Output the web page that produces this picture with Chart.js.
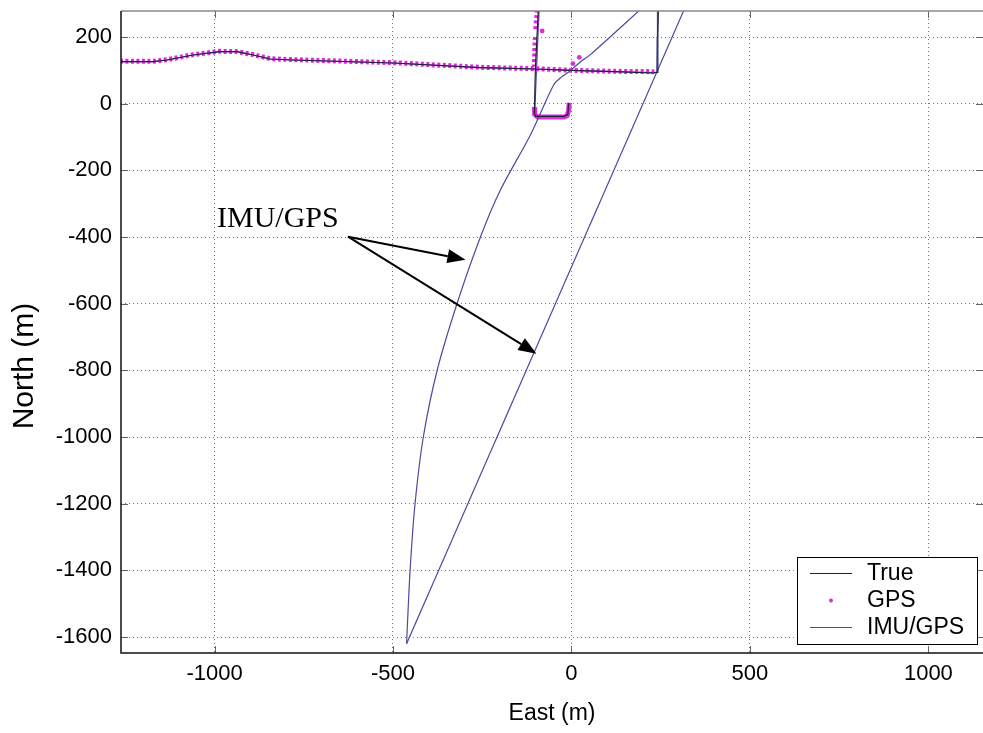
<!DOCTYPE html>
<html>
<head>
<meta charset="utf-8">
<title>IMU/GPS trajectory</title>
<script src="https://cdn.jsdelivr.net/npm/chart.js@4.4.1/dist/chart.umd.min.js"></script>
<style>
  html, body { margin: 0; padding: 0; background: #fff; }
  #wrap { width: 983px; height: 733px; }
</style>
</head>
<body>
<div id="wrap"><canvas id="trackChart" width="983" height="733"></canvas></div>
<script>
// axis limits and tick labels (metres)
const eastRange = [-1262, 1153];
const northRange = [-1648, 278];
const eastTicks = [-1000, -500, 0, 500, 1000];
const northTicks = [-1600, -1400, -1200, -1000, -800, -600, -400, -200, 0, 200];

// True trajectory, null = leaves the plot
const trueEast  = [-1265, -1172, -1133, -1060, -985, -937, -892, -844, -780, -499, -255, -100, 0, 120, 228, 241, 242, 244, null, -92, -101, -104, -100, -20, -10, -8];
const trueNorth = [126, 126, 131, 146, 156, 156, 146, 134, 131, 122, 108, 104, 100, 96, 92, 94, 200, 300, null, 300, 107, -30, -38, -38, -32, 2];

// GPS fixes along the road and the north-south street
const gpsEast  = [-1265, -1172, -1133, -1060, -985, -937, -892, -844, -780, -499, -255, -100, 0, 120, 232, null, -95, -99, -100, null, -101, -103, -104];
const gpsNorth = [127, 127, 132, 147, 157, 156, 147, 135, 132, 123, 109, 105, 100, 97, 96, null, 282, 240, 222, null, 200, 150, 112];
// GPS fixes in the small loop south of the road
const gpsLoopEast  = [-104, -103, -95, -20, -12, -8, -6];
const gpsLoopNorth = [-10, -32, -40, -40, -36, -20, 3];
// isolated GPS fixes
const gpsSpotEast  = [-82, 4, 22];
const gpsSpotNorth = [218, 120, 139];

// IMU/GPS solution while it follows the track
const imuEast  = [-1265, -1172, -1133, -1060, -985, -937, -892, -844, -780, -499, -255, -100, 0, 120, 228, 239, 240, 241, null, -90, -98, -103];
const imuNorth = [126, 126, 131, 146, 156, 156, 146, 134, 131, 122, 108, 104, 100, 96, 93, 95, 200, 300, null, 300, 100, -30];
// IMU/GPS drift: curved branch down to the turning point, straight branch back up
const driftEast  = [201, 53, 25, -8, -30, -50, -115, -199, -255, -320, -376, -415, -438, -452, -462];
const driftNorth = [290, 147, 125, 95, 78, 56, -94, -259, -400, -598, -799, -1000, -1198, -1399, -1620];
const returnEast  = [-462, 319];
const returnNorth = [-1620, 290];

// annotation (data units)
const noteText = 'IMU/GPS';
const noteAt = [-993, -370];
const arrowFrom = [-626, -399];
const arrowTips = [[-297, -468], [-98, -750]];

const pts = (xs, ys) => xs.map((x, i) => ({ x: x, y: ys[i] }));

const SANS = '"Liberation Sans", Arial, sans-serif';
const TRUE_COLOR = '#202038';
const GPS_COLOR = '#dc2cdc';
const IMU_COLOR = '#4a4aa0';

// frame + inward tick marks, like a matlab axes box
const axesBox = {
  id: 'axesBox',
  afterDatasetsDraw(chart) {
    const { ctx, chartArea: a, scales } = chart;
    ctx.save();
    ctx.strokeStyle = '#666';
    ctx.lineWidth = 1;
    ctx.beginPath();
    eastTicks.forEach(v => {
      const x = Math.round(scales.x.getPixelForValue(v)) + 0.5;
      ctx.moveTo(x, a.bottom); ctx.lineTo(x, a.bottom - 7);
      ctx.moveTo(x, a.top); ctx.lineTo(x, a.top + 7);
    });
    northTicks.forEach(v => {
      const y = Math.round(scales.y.getPixelForValue(v)) + 0.5;
      ctx.moveTo(a.left, y); ctx.lineTo(a.left + 7, y);
      ctx.moveTo(a.right, y); ctx.lineTo(a.right - 7, y);
    });
    ctx.stroke();

    ctx.lineWidth = 1.5;
    ctx.strokeStyle = '#888';
    ctx.beginPath();
    ctx.moveTo(a.left, a.top); ctx.lineTo(a.right, a.top);
    ctx.stroke();
    ctx.strokeStyle = '#111';
    ctx.beginPath();
    ctx.moveTo(a.left, a.top); ctx.lineTo(a.left, a.bottom); ctx.lineTo(a.right, a.bottom);
    ctx.stroke();
    ctx.restore();
  }
};

// text label with two arrows, plus the y axis title
const note = {
  id: 'note',
  afterDatasetsDraw(chart) {
    const { ctx, scales, chartArea: a } = chart;
    const px = p => [scales.x.getPixelForValue(p[0]), scales.y.getPixelForValue(p[1])];
    ctx.save();
    ctx.fillStyle = '#000';
    ctx.font = '30px "Liberation Serif", "Times New Roman", serif';
    ctx.textBaseline = 'alphabetic';
    const t = px(noteAt);
    ctx.fillText(noteText, t[0], t[1]);

    const s = px(arrowFrom);
    ctx.strokeStyle = '#000';
    ctx.lineWidth = 2;
    arrowTips.forEach(tip => {
      const e = px(tip);
      const ang = Math.atan2(e[1] - s[1], e[0] - s[0]);
      const len = 18, half = 7;
      const bx = e[0] - len * Math.cos(ang), by = e[1] - len * Math.sin(ang);
      ctx.beginPath();
      ctx.moveTo(s[0], s[1]); ctx.lineTo(bx, by);
      ctx.stroke();
      ctx.beginPath();
      ctx.moveTo(e[0], e[1]);
      ctx.lineTo(bx + half * Math.sin(ang), by - half * Math.cos(ang));
      ctx.lineTo(bx - half * Math.sin(ang), by + half * Math.cos(ang));
      ctx.closePath();
      ctx.fill();
    });

    // y title sits a bit lower and larger than chart.js would put it
    ctx.translate(25, (a.top + a.bottom) / 2 + 34);
    ctx.rotate(-Math.PI / 2);
    ctx.font = '30px ' + SANS;
    ctx.textAlign = 'center';
    ctx.textBaseline = 'middle';
    ctx.fillText('North (m)', 0, 0);
    ctx.restore();
  }
};

// legend box in the lower right corner
const legendBox = {
  id: 'legendBox',
  afterDraw(chart) {
    const { ctx, chartArea: a } = chart;
    const w = 180, h = 87;
    const x0 = Math.round(a.right - 6 - w), y0 = Math.round(a.bottom - 9 - h);
    ctx.save();
    ctx.fillStyle = '#fff';
    ctx.fillRect(x0, y0, w, h);
    ctx.strokeStyle = '#000';
    ctx.lineWidth = 1;
    ctx.strokeRect(x0 + 0.5, y0 + 0.5, w, h);
    ctx.font = '23px ' + SANS;
    ctx.textBaseline = 'middle';
    chart.data.datasets.filter(d => d.label).forEach((d, i) => {
      const y = y0 + 16 + i * 27;
      if (d.legendMark === 'dot') {
        ctx.fillStyle = d.borderColor;
        ctx.beginPath();
        ctx.arc(x0 + 34, y + 0.5, 2, 0, Math.PI * 2);
        ctx.fill();
      } else {
        ctx.strokeStyle = d.borderColor;
        ctx.lineWidth = 1;
        ctx.beginPath();
        ctx.moveTo(x0 + 13, y + 0.5); ctx.lineTo(x0 + 55, y + 0.5);
        ctx.stroke();
      }
      ctx.fillStyle = '#000';
      ctx.fillText(d.label, x0 + 70, y + 1);
    });
    ctx.restore();
  }
};

const lineSet = (label, xs, ys, color, extra) => Object.assign({
  label: label,
  data: pts(xs, ys),
  showLine: true,
  borderColor: color,
  borderWidth: 1.2,
  pointRadius: 0,
  spanGaps: false,
  clip: 0
}, extra || {});

new Chart(document.getElementById('trackChart'), {
  type: 'scatter',
  data: {
    datasets: [
      lineSet('True', trueEast, trueNorth, TRUE_COLOR),
      lineSet('GPS', gpsEast, gpsNorth, GPS_COLOR, { legendMark: 'dot', borderWidth: 5, borderDash: [3, 2.5] }),
      lineSet('IMU/GPS', imuEast, imuNorth, IMU_COLOR),
      lineSet('', driftEast, driftNorth, IMU_COLOR, { tension: 0.3 }),
      lineSet('', returnEast, returnNorth, IMU_COLOR),
      lineSet('', gpsLoopEast, gpsLoopNorth, GPS_COLOR, { borderWidth: 5 }),
      {
        label: '',
        data: pts(gpsSpotEast, gpsSpotNorth),
        showLine: false,
        pointRadius: 2.4,
        pointBorderWidth: 0,
        pointBackgroundColor: GPS_COLOR,
        clip: 0
      }
    ]
  },
  options: {
    responsive: false,
    animation: false,
    events: [],
    layout: { autoPadding: false, padding: { top: 11, right: 0, left: 0, bottom: 0 } },
    plugins: {
      legend: { display: false },
      tooltip: { enabled: false }
    },
    scales: {
      x: {
        type: 'linear',
        min: eastRange[0],
        max: eastRange[1],
        afterBuildTicks: s => { s.ticks = eastTicks.map(v => ({ value: v })); },
        afterFit: s => { s.height = 80; s.paddingLeft = 0; s.paddingRight = 0; },
        grid: { color: '#777', lineWidth: 1, drawTicks: false },
        border: { display: false, dash: [1, 3] },
        ticks: { color: '#000', padding: 8, maxRotation: 0, callback: v => String(v), font: { family: SANS, size: 22 } },
        title: {
          display: true,
          text: 'East (m)',
          color: '#000',
          font: { family: SANS, size: 23 },
          padding: { top: 0, bottom: 6 }
        }
      },
      y: {
        type: 'linear',
        min: northRange[0],
        max: northRange[1],
        afterBuildTicks: s => { s.ticks = northTicks.map(v => ({ value: v })); },
        afterFit: s => { s.width = 121; s.paddingTop = 0; s.paddingBottom = 0; },
        grid: { color: '#777', lineWidth: 1, drawTicks: false },
        border: { display: false, dash: [1, 3] },
        ticks: { color: '#000', padding: 9, callback: v => String(v), font: { family: SANS, size: 22 } },
        title: { display: false }
      }
    }
  },
  plugins: [axesBox, note, legendBox]
});
</script>
</body>
</html>
